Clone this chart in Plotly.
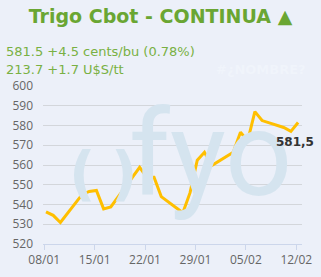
import pandas as pd
import plotly.graph_objects as go

# ---- data ----
dates = ["2025-01-08", "2025-01-09", "2025-01-10", "2025-01-13", "2025-01-14",
         "2025-01-15", "2025-01-16", "2025-01-17", "2025-01-21", "2025-01-22",
         "2025-01-23", "2025-01-24", "2025-01-27", "2025-01-28", "2025-01-29",
         "2025-01-30", "2025-01-31", "2025-02-03", "2025-02-04", "2025-02-05",
         "2025-02-06", "2025-02-07", "2025-02-10", "2025-02-11", "2025-02-12"]
prices = [536.3, 534.5, 530.9, 545.0, 546.6,
          547.1, 537.8, 538.8, 558.8, 553.8,
          553.8, 544.0, 535.8, 546.0, 562.4,
          566.4, 559.7, 566.4, 576.6, 572.2,
          587.0, 582.5, 579.0, 577.0, 581.5]
tick_dates = ["2025-01-08", "2025-01-15", "2025-01-22", "2025-01-29",
              "2025-02-05", "2025-02-12"]
title_text = "Trigo Cbot - CONTINUA ▲"
line1 = "581.5 +4.5 cents/bu (0.78%)"
line2 = "213.7 +1.7 U$S/tt"
last_label = "581,5"
y_ticks = [520, 530, 540, 550, 560, 570, 580, 590, 600]

# ---- layout helpers ----
W, H = 321, 277
ML, MR, MT, MB = 43, 9, 86, 26
PW, PH = W - ML - MR, H - MT - MB


def px(x):
    return (x - ML) / PW


def py(y):
    return (H - MB - y) / PH


x = pd.to_datetime(dates) + pd.Timedelta(hours=6)

BG = "#ECF0F9"
WM = "#D5E4EF"

fig = go.Figure()
fig.add_trace(go.Scatter(
    x=x, y=prices, mode="lines",
    line=dict(color="#FFBF00", width=3),
    hoverinfo="skip", showlegend=False,
))

annotations = [
    # watermark logo
    dict(text="(", x=px(84), y=py(178), xref="paper", yref="paper",
         showarrow=False, xanchor="center", yanchor="middle",
         font=dict(family="DejaVu Sans", size=58, color=WM, weight="bold")),
    dict(text=")", x=px(128), y=py(178), xref="paper", yref="paper",
         showarrow=False, xanchor="center", yanchor="middle",
         font=dict(family="DejaVu Sans", size=58, color=WM, weight="bold")),
    dict(text="fyo", x=px(217), y=py(158), xref="paper", yref="paper",
         showarrow=False, xanchor="center", yanchor="middle",
         font=dict(family="Roboto", size=118, color=WM)),
    dict(text="#¿NOMBRE?", x=px(318), y=py(69), xref="paper", yref="paper",
         showarrow=False, xanchor="right", yanchor="middle",
         font=dict(family="DejaVu Sans", size=13, color="#F0F4FB", weight="bold")),
    dict(text=line1, x=px(3), y=py(50), xref="paper", yref="paper",
         showarrow=False, xanchor="left", yanchor="middle",
         font=dict(family="DejaVu Sans", size=13, color="#79B043")),
    dict(text=line2, x=px(3), y=py(69), xref="paper", yref="paper",
         showarrow=False, xanchor="left", yanchor="middle",
         font=dict(family="DejaVu Sans", size=13, color="#79B043")),
    dict(text="<b>" + last_label + "</b>", x=x[-1], y=prices[-1],
         xref="x", yref="y", showarrow=False, xanchor="right", yanchor="middle",
         xshift=18, yshift=-19,
         font=dict(family="DejaVu Sans", size=12, color="#333333")),
]

fig.update_layout(
    width=W, height=H,
    margin=dict(l=ML, r=MR, t=MT, b=MB, pad=0),
    paper_bgcolor=BG, plot_bgcolor=BG,
    title=dict(text="<b>" + title_text + "</b>", x=0.5, xanchor="center",
               y=1 - 16 / H, yanchor="middle",
               font=dict(family="DejaVu Sans", size=19, color="#6AA633")),
    annotations=annotations,
    xaxis=dict(
        type="date",
        range=["2025-01-07 20:00", "2025-02-12 19:00"],
        tickvals=tick_dates,
        tickformat="%d/%m",
        ticklabeloverflow="allow",
        showgrid=False, zeroline=False,
        showline=True, linecolor="#CCD6EB", linewidth=1,
        ticks="outside", ticklen=5, tickcolor="#CCD6EB",
        tickfont=dict(family="Open Sans", size=12, color="#666666"),
    ),
    yaxis=dict(
        range=[520, 600], tickvals=y_ticks,
        showgrid=True, gridcolor="#D3D6DB", gridwidth=1,
        zeroline=False, showline=False, ticks="",
        ticklabelstandoff=9,
        tickfont=dict(family="Open Sans", size=12, color="#666666"),
    ),
)

fig.write_html("out.html")
